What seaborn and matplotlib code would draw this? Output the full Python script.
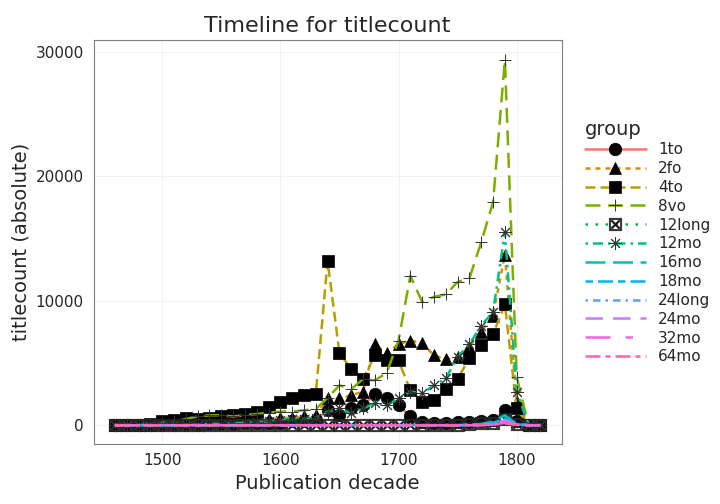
import numpy as np
import pandas as pd
import seaborn as sns
import matplotlib.pyplot as plt

decades = list(range(1460, 1830, 10))

to1 = [0,0,0,0,0,50,50,50,100,100,100,150,150,200,200,300,300,400,1200,800,1350,1600,2500,2150,1600,700,250,200,200,250,250,300,400,1200,300,0,0]
fo2 = [0,0,0,50,100,100,150,200,200,250,300,350,400,500,550,600,700,800,2150,2150,2400,2700,6500,5800,6500,6800,6600,5600,5300,5500,6300,7500,8800,13700,1900,0,0]
to4 = [0,0,50,100,300,400,550,500,600,700,800,900,1100,1500,1900,2200,2400,2500,13200,5800,4500,3700,5600,5250,5200,2800,1900,2000,2900,3700,5400,6400,7300,9700,1350,0,0]
vo8 = [0,0,50,100,200,300,500,700,800,800,700,800,900,1000,1100,1100,1200,1300,2200,3200,2900,3700,3600,4200,6800,12000,9900,10300,10500,11500,11800,14700,17900,29300,3900,0,0]
long12 = [0]*17 + [50,50,50,50,50,50,50,50,50,50,50,50,50,100,150,200,500,100,0,0]
mo12 = [0,0,0,0,0,0,0,50,100,100,150,200,250,300,400,500,500,600,1100,1350,950,1350,1750,1600,2150,2700,2550,3200,3750,5500,6500,8000,9100,15500,2700,0,0]
mo16 = [0]*30 + [50,100,300,800,100,0,0]
mo18 = [0]*30 + [30,50,200,500,80,0,0]
long24 = [0]*30 + [0,0,100,300,50,0,0]
mo24 = [0]*30 + [0,0,100,400,50,0,0]
mo32 = [0]*30 + [0,0,50,200,30,0,0]
mo64 = [0]*30 + [0,0,50,150,20,0,0]

groups = ['1to', '2fo', '4to', '8vo', '12long', '12mo', '16mo', '18mo', '24long', '24mo', '32mo', '64mo']
values = [to1, fo2, to4, vo8, long12, mo12, mo16, mo18, long24, mo24, mo32, mo64]
colors = ['#F8766D', '#DE8C00', '#B79F00', '#7CAE00', '#00BA38', '#00C08B',
          '#00BFC4', '#00B4F0', '#619CFF', '#C77CFF', '#F564E3', '#FF64B0']
styles = ['-', (0, (2, 2)), (0, (4, 2)), (0, (6, 3)), (0, (1, 3)), (0, (1, 2, 4, 2)),
          (0, (8, 3)), (0, (3, 2, 6, 2)), (0, (1, 2, 3, 2)), (0, (7, 4)), (0, (10, 6, 3, 6)), (0, (6, 2, 2, 2))]
markers = ['o', '^', 's', '+', r'$\boxtimes$', (8, 2, 0), None, None, None, None, None, None]

df = pd.DataFrame({'decade': decades * len(groups),
                   'count': sum(values, []),
                   'group': np.repeat(groups, len(decades))})

sns.set_style('white')
fig, ax = plt.subplots(figsize=(7.2, 5.04), dpi=100)
for g, c, ls, m in zip(groups, colors, styles, markers):
    sub = df[df['group'] == g]
    kw = {}
    if m is not None:
        kw = dict(marker=m, markersize=9, markerfacecolor='black', markeredgecolor='black',
                  markeredgewidth=0.7 if m in ('+', (8, 2, 0)) else 0.5)
        if m in ('+', (8, 2, 0), r'$\boxtimes$'):
            kw['markeredgecolor'] = '#333333'
    sns.lineplot(data=sub, x='decade', y='count', color=c, linestyle=ls, linewidth=1.8,
                 label=g, ax=ax, **kw)

ax.set_xlim(1442, 1838)
ax.set_ylim(-1470, 30900)
ax.set_xticks([1500, 1600, 1700, 1800])
ax.set_yticks([0, 10000, 20000, 30000])
ax.grid(True, color='#f0f0f0', linewidth=0.6)
for s in ax.spines.values():
    s.set_color('#7f7f7f')
ax.tick_params(labelsize=11)
ax.set_xlabel('Publication decade', fontsize=14)
ax.set_ylabel('titlecount (absolute)', fontsize=14)
ax.set_title('Timeline for titlecount', fontsize=16)
leg = ax.legend(title='group', loc='center left', bbox_to_anchor=(1.02, 0.5), frameon=False,
                fontsize=11, title_fontsize=14, handlelength=4, labelspacing=0.25,
                alignment='left')
plt.subplots_adjust(left=0.13, right=0.78, top=0.92, bottom=0.12)
plt.savefig('out.png', dpi=100)
